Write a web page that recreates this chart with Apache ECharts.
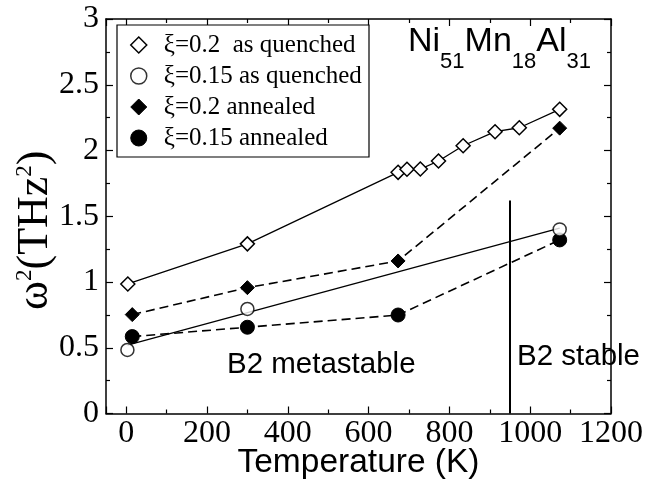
<!DOCTYPE html>
<html><head><meta charset="utf-8">
<script src="https://cdn.jsdelivr.net/npm/echarts@6/dist/echarts.min.js"></script>
<style>html,body{margin:0;padding:0;background:#fff}#c{width:646px;height:485px}</style>
</head><body><div id="c"></div>
<script>
// ---- data ----
const aqT02 = [4, 300, 673, 695, 728, 773, 834, 913, 973, 1073];
const aqV02 = [0.985, 1.29, 1.834, 1.857, 1.859, 1.92, 2.036, 2.143, 2.173, 2.313];
const aqT015 = [3, 300, 1073];
const aqV015 = [0.483, 0.795, 1.40];
const fitT015 = [3, 1073];
const fitV015 = [0.52, 1.41];
const anT02 = [15, 300, 673, 1073];
const anV02 = [0.752, 0.957, 1.16, 2.17];
const anT015 = [15, 300, 673, 1073];
const anV015 = [0.585, 0.656, 0.749, 1.32];
const boundaryT = [950, 950];
const boundaryV = [0, 1.62];
const legendNames = ['ξ=0.2  as quenched', 'ξ=0.15 as quenched', 'ξ=0.2 annealed', 'ξ=0.15 annealed'];
const xRange = [-50, 1200];
const yRange = [0, 3];
const xStep = 200;
const yStep = 0.5;

const zip = (a, b) => a.map((v, i) => [v, b[i]]);
const SERIF = '"Liberation Serif", "Times New Roman", serif';
const SANS = '"Liberation Sans", Arial, Helvetica, sans-serif';

const openStyle = {color: '#fff', borderColor: '#000', borderWidth: 1.5};
const fillStyle = {color: '#000', borderColor: '#000', borderWidth: 1};

const axisCommon = {
  axisLine: {show: true, onZero: false, lineStyle: {color: '#000', width: 1.5}},
  axisTick: {show: true, inside: true, length: 7, lineStyle: {color: '#000', width: 1.2}},
  minorTick: {show: true, splitNumber: 2, length: 4, lineStyle: {color: '#000', width: 1.2}},
  splitLine: {show: false},
  minorSplitLine: {show: false}
};

const xBase = Object.assign({
  type: 'value', min: xRange[0], max: xRange[1], splitNumber: 6,
  minInterval: xStep, maxInterval: xStep
}, axisCommon);
const yBase = Object.assign({
  type: 'value', min: yRange[0], max: yRange[1], interval: yStep
}, axisCommon);

const chart = echarts.init(document.getElementById('c'), null, {renderer: 'canvas'});
chart.setOption({
  animation: false,
  backgroundColor: '#fff',
  grid: {left: 106, top: 19, right: 35, bottom: 71.5, containLabel: false, outerBoundsMode: 'none'},
  title: {
    text: '{m|Ni}{s|51}{m|Mn}{s|18}{m|Al}{s|31}',
    left: 408, top: 25, padding: 0,
    textStyle: {
      fontWeight: 'normal',
      rich: {
        m: {fontFamily: SANS, fontSize: 34, fontWeight: 'normal', color: '#000', lineHeight: 36, verticalAlign: 'top'},
        s: {fontFamily: SANS, fontSize: 22, fontWeight: 'normal', color: '#000', lineHeight: 20, padding: [26, 0, 0, 0], verticalAlign: 'top'}
      }
    }
  },
  legend: {
    orient: 'vertical', left: 130, top: 32, padding: 0, itemGap: 5,
    itemWidth: 16, itemHeight: 16, selectedMode: false, z: 6,
    textStyle: {fontFamily: SERIF, fontSize: 25, color: '#000', lineHeight: 26, padding: [0, 0, 0, 12]},
    data: [
      {name: legendNames[0], icon: 'diamond', itemStyle: openStyle},
      {name: legendNames[1], icon: 'circle', itemStyle: openStyle},
      {name: legendNames[2], icon: 'diamond', itemStyle: fillStyle},
      {name: legendNames[3], icon: 'circle', itemStyle: fillStyle}
    ]
  },
  graphic: [
    {type: 'rect', z: 5, shape: {x: 117, y: 25, width: 252, height: 132},
     style: {fill: '#fff', stroke: '#000', lineWidth: 1.2}},
    {type: 'text', left: 227, top: 350, z: 5,
     style: {text: 'B2 metastable', font: '29.5px ' + SANS, fill: '#000'}},
    {type: 'text', left: 517, top: 342, z: 5,
     style: {text: 'B2 stable', font: '29.5px ' + SANS, fill: '#000'}}
  ],
  xAxis: [
    Object.assign({}, xBase, {
      position: 'bottom',
      axisLabel: {showMinLabel: false, margin: 4, fontFamily: SERIF, fontSize: 32, color: '#000',
        formatter: v => (v % xStep === 0 ? String(v) : '')},
      name: 'Temperature (K)', nameLocation: 'middle', nameGap: 32, nameMoveOverlap: false,
      nameTextStyle: {fontFamily: SANS, fontSize: 33.5, color: '#000'}
    }),
    Object.assign({}, xBase, {position: 'top', axisLabel: {show: false}})
  ],
  yAxis: [
    Object.assign({}, yBase, {
      position: 'left',
      axisLabel: {margin: 7, fontFamily: SERIF, fontSize: 32, color: '#000', formatter: v => String(v)},
      name: '{w|ω}{s|2}{w|(THz}{s|2}{w|)}',
      nameLocation: 'middle', nameRotate: 90, nameGap: 49, nameMoveOverlap: false,
      nameTextStyle: {
        padding: [0, 28, 0, 0],
        rich: {
          w: {fontFamily: SERIF, fontSize: 44, color: '#000', lineHeight: 44, verticalAlign: 'bottom'},
          s: {fontFamily: SERIF, fontSize: 23, color: '#000', lineHeight: 23, padding: [0, 0, 32, 0], verticalAlign: 'top'}
        }
      }
    }),
    Object.assign({}, yBase, {position: 'right', axisLabel: {show: false}})
  ],
  series: [
    {
      name: legendNames[0], type: 'line', data: zip(aqT02, aqV02), z: 4,
      symbol: 'diamond', symbolSize: 14, showAllSymbol: true,
      lineStyle: {color: '#000', width: 1.3}, itemStyle: openStyle
    },
    {
      name: 'fit015', type: 'line', data: zip(fitT015, fitV015), z: 3,
      symbol: 'none', lineStyle: {color: '#000', width: 1.3}
    },
    {
      name: legendNames[1], type: 'scatter', data: zip(aqT015, aqV015), z: 5,
      symbol: 'circle', symbolSize: 13, itemStyle: openStyle
    },
    {
      name: legendNames[2], type: 'line', data: zip(anT02, anV02), z: 4,
      symbol: 'diamond', symbolSize: 14,
      lineStyle: {color: '#000', width: 1.6, type: [9, 5]}, itemStyle: fillStyle
    },
    {
      name: legendNames[3], type: 'line', data: zip(anT015, anV015), z: 4,
      symbol: 'circle', symbolSize: 14,
      lineStyle: {color: '#000', width: 1.6, type: [9, 5]}, itemStyle: fillStyle
    },
    {
      name: 'boundary', type: 'line', data: zip(boundaryT, boundaryV), z: 3,
      symbol: 'none', lineStyle: {color: '#000', width: 2}
    }
  ]
});
</script>
</body></html>
